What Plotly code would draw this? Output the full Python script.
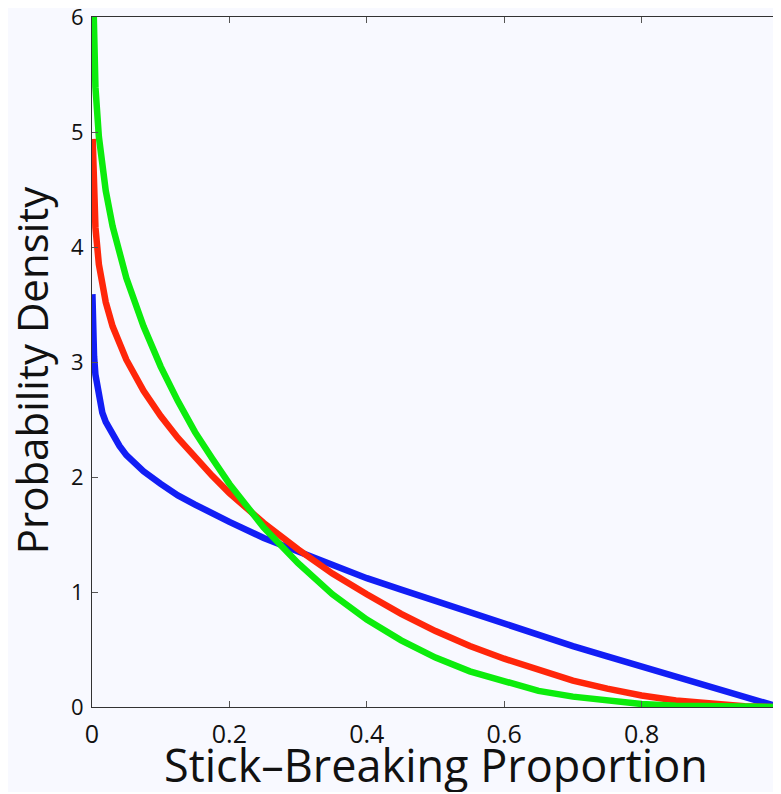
import plotly.graph_objects as go

# Curve samples (densities vs. stick-breaking proportion)
grid_x = [0.001, 0.002, 0.003, 0.005, 0.01, 0.015, 0.02, 0.03, 0.04, 0.05, 0.075, 0.1,
          0.125, 0.15, 0.175, 0.2, 0.25, 0.3, 0.35, 0.4, 0.45, 0.5, 0.55, 0.6, 0.65,
          0.7, 0.75, 0.8, 0.85, 0.9, 0.95, 1.0]

blue_x = [0.0006] + grid_x
blue_y = [3.59, 3.41, 3.18, 3.05, 2.89, 2.68, 2.56, 2.48, 2.36, 2.27, 2.19, 2.05, 1.94,
          1.84, 1.76, 1.68, 1.61, 1.47, 1.35, 1.24, 1.12, 1.02, 0.92, 0.82, 0.72, 0.63,
          0.53, 0.44, 0.35, 0.26, 0.17, 0.086, 0.0]

red_x = grid_x
red_y = [4.94, 4.60, 4.41, 4.17, 3.85, 3.66, 3.52, 3.31, 3.15, 3.02, 2.75, 2.53,
         2.34, 2.17, 2.01, 1.86, 1.60, 1.37, 1.16, 0.98, 0.81, 0.66, 0.53, 0.42, 0.32,
         0.23, 0.16, 0.10, 0.057, 0.025, 0.006, 0.0]

green_x = grid_x
green_y = [6.41, 5.97, 5.71, 5.39, 4.96, 4.69, 4.49, 4.18, 3.94, 3.73, 3.31, 2.96,
           2.66, 2.39, 2.16, 1.94, 1.56, 1.25, 0.98, 0.76, 0.58, 0.43, 0.31, 0.22, 0.14,
           0.09, 0.052, 0.026, 0.011, 0.003, 0.0004, 0.0]

x_ticks = [0, 0.2, 0.4, 0.6, 0.8, 1]
x_tick_text = ["0", "0.2", "0.4", "0.6", "0.8", "1"]
y_ticks = [0, 1, 2, 3, 4, 5, 6]

x_title = "Stick\u2013Breaking Proportion"
y_title = "Probability Density"

BG = "rgb(248,249,255)"
FONT = "Open Sans"

fig = go.Figure()
for xs, ys, col in [(blue_x, blue_y, "rgb(18,30,245)"),
                    (red_x, red_y, "rgb(255,38,10)"),
                    (green_x, green_y, "rgb(12,236,12)")]:
    fig.add_trace(go.Scatter(x=xs, y=ys, mode="lines",
                             line=dict(color=col, width=6.5),
                             showlegend=False))

axis_common = dict(showgrid=False, zeroline=False, showline=True, linecolor="#333",
                   linewidth=1, mirror="ticks", ticks="inside", ticklen=6,
                   tickcolor="#555", tickwidth=1, ticklabeloverflow="allow")

fig.update_xaxes(range=[0, 1], tickvals=x_ticks, ticktext=x_tick_text,
                 tickfont=dict(family=FONT, size=25, color="#111"),
                 ticklabelstandoff=5,
                 **axis_common)
fig.update_yaxes(range=[0, 6], tickvals=y_ticks,
                 tickfont=dict(family=FONT, size=22, color="#111"),
                 ticklabelstandoff=3,
                 **axis_common)

fig.add_annotation(text=x_title, xref="paper", yref="paper", x=0.5, y=0,
                   xanchor="center", yanchor="middle", yshift=-57, showarrow=False,
                   font=dict(family=FONT, size=45, color="#111"))
fig.add_annotation(text=y_title, xref="paper", yref="paper", x=0, y=0.488,
                   xanchor="center", yanchor="middle", xshift=-61, textangle=-90,
                   showarrow=False, font=dict(family=FONT, size=42, color="#111"))

# page body adds ~8px margin; compensate so the plot area lands where the reference has it
fig.update_layout(width=773, height=784,
                  margin=dict(l=84, r=2, t=9, b=85, autoexpand=False),
                  paper_bgcolor=BG, plot_bgcolor=BG)

fig.write_html("out.html")
